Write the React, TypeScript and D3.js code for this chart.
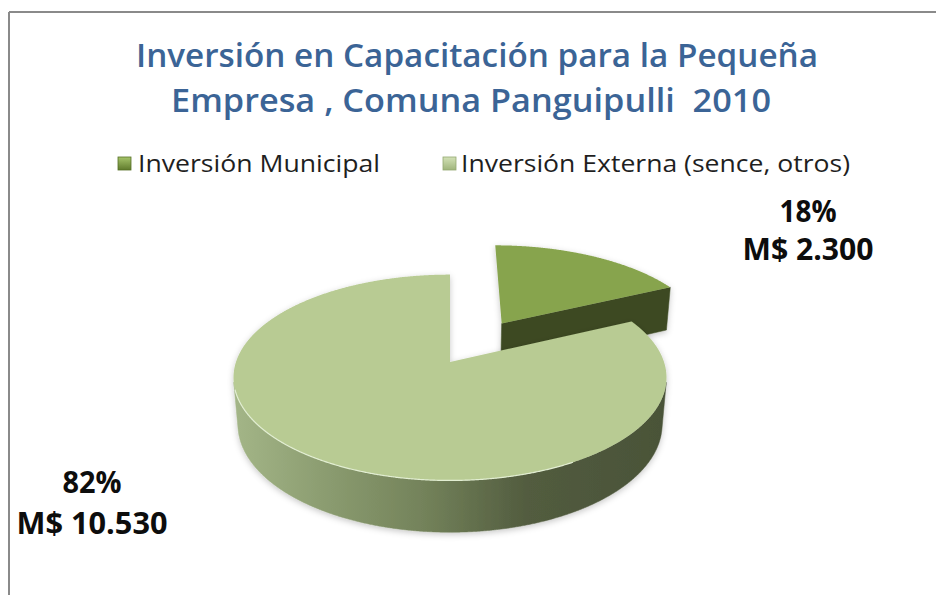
import React from "react";
import * as d3 from "d3";

// ---------- data ----------
const categories = ["Inversión Municipal", "Inversión Externa (sence, otros)"];
const values = [2300, 10530];
const titleLines = [
  "Inversión en Capacitación para la Pequeña",
  "Empresa , Comuna Panguipulli  2010",
];

// ---------- style / layout ----------
const W = 936;
const H = 595;
const explode = [0.48, 0];
const topColors = ["#87a44d", "#b8cb93"];
const faceColors = ["#3d4a22", "#4a5338"];
const legendX = [118, 443];
const legendTextX = [138, 461];
const legendTextW = [242, 389];
const labelPos = [
  { x: 808, y1: 222, y2: 260, w1: 57, w2: 131 },
  { x: 92, y1: 493, y2: 534, w1: 59, w2: 151 },
];

// projection parameters (perspective view of a unit pie)
const CX = 450;
const CY = 362;
const F = 1252;
const DIST = 5.85;
const SIN_T = 0.47;
const COS_T = Math.sqrt(1 - SIN_T * SIN_T);
const DEPTH = 0.251;

function project(X: number, Y: number, Z: number): [number, number] {
  const yc = Y * COS_T + Z * SIN_T;
  const zc = -Y * SIN_T + Z * COS_T + DIST;
  return [CX + (F * X) / zc, CY - (F * yc) / zc];
}

const total = d3.sum(values);
const pctFmt = d3.format(".0%");
const locale = d3.formatLocale({
  decimal: ",",
  thousands: ".",
  grouping: [3],
  currency: ["M$ ", ""],
});
const moneyFmt = locale.format("$,.0f");

const pie = d3
  .pie<number>()
  .sort(null)
  .startAngle(0)
  .endAngle(Math.PI * 2)
  .value((d) => d);
const arcs = pie(values);

const line = d3.line<[number, number]>();

function sliceGeometry(i: number) {
  const a0 = arcs[i].startAngle;
  const a1 = arcs[i].endAngle;
  const mid = (a0 + a1) / 2;
  const ox = explode[i] * Math.sin(mid);
  const oz = explode[i] * Math.cos(mid);
  const rim = (a: number, Y: number) =>
    project(Math.sin(a) + ox, Y, Math.cos(a) + oz);
  const apexTop = project(ox, 0, oz);
  const apexBot = project(ox, -DEPTH, oz);
  const step = Math.PI / 720;
  const n = Math.max(2, Math.ceil((a1 - a0) / step));
  const angles = d3.range(n + 1).map((k) => a0 + ((a1 - a0) * k) / n);

  // top face
  const topPts: [number, number][] = [apexTop, ...angles.map((a) => rim(a, 0))];
  const top = line(topPts) + "Z";

  // outer wall visible segments
  const vis = (a: number) =>
    -1 - ox * Math.sin(a) - Math.cos(a) * (DIST * COS_T + oz) > 0;
  const walls: string[] = [];
  let seg: number[] = [];
  const flush = () => {
    if (seg.length > 1) {
      const pts: [number, number][] = [
        ...seg.map((a) => rim(a, 0)),
        ...seg
          .slice()
          .reverse()
          .map((a) => rim(a, -DEPTH)),
      ];
      walls.push(line(pts) + "Z");
    }
    seg = [];
  };
  angles.forEach((a) => {
    if (vis(a)) seg.push(a);
    else flush();
  });
  flush();

  // cut faces (only clearly front-facing ones)
  const faces: string[] = [];
  const camToApex = [-ox, DIST * SIN_T, -DIST * COS_T - oz];
  const startN = [-Math.cos(a0), 0, Math.sin(a0)];
  const endN = [Math.cos(a1), 0, -Math.sin(a1)];
  const dot = (nv: number[]) =>
    nv[0] * camToApex[0] + nv[1] * camToApex[1] + nv[2] * camToApex[2];
  [
    [a0, startN],
    [a1, endN],
  ].forEach(([a, nv]) => {
    if (dot(nv as number[]) > 0.5) {
      const pts: [number, number][] = [
        apexTop,
        rim(a as number, 0),
        rim(a as number, -DEPTH),
        apexBot,
      ];
      faces.push(line(pts) + "Z");
    }
  });

  // highlight on front rim
  const hl = angles.filter((a) => a > (150 * Math.PI) / 180 && a < (255 * Math.PI) / 180);
  const highlight = hl.length > 1 ? line(hl.map((a) => rim(a, 0))) : null;

  return { top, walls, faces, highlight, depthKey: oz };
}

const slices = arcs
  .map((_, i) => ({ i, g: sliceGeometry(i) }))
  .sort((a, b) => b.g.depthKey - a.g.depthKey);

const leftX = project(-1, 0, 0)[0];
const rightX = project(1, 0, 0)[0];

export default function App() {
  return (
    <div style={{ position: "fixed", left: 0, top: 0, width: W, height: H, background: "#fff" }}>
      <svg width={W} height={H} viewBox={`0 0 ${W} ${H}`}>
        <defs>
          <linearGradient id="wallGrad" gradientUnits="userSpaceOnUse" x1={leftX} x2={rightX} y1={0} y2={0}>
            <stop offset="0" stopColor="#a3b587" />
            <stop offset="0.21" stopColor="#8b9c70" />
            <stop offset="0.44" stopColor="#73825a" />
            <stop offset="0.68" stopColor="#525c3f" />
            <stop offset="1" stopColor="#4a5338" />
          </linearGradient>
          <linearGradient id="lg0" x1="0" x2="0" y1="0" y2="1">
            <stop offset="0" stopColor="#a6c46a" />
            <stop offset="1" stopColor="#5f7a2c" />
          </linearGradient>
          <linearGradient id="lg1" x1="0" x2="0" y1="0" y2="1">
            <stop offset="0" stopColor="#d3e2b7" />
            <stop offset="1" stopColor="#9fb47b" />
          </linearGradient>
          <filter id="shadow" x="-10%" y="-10%" width="120%" height="130%">
            <feDropShadow dx="0" dy="2" stdDeviation="3" floodColor="#000" floodOpacity="0.22" />
          </filter>
        </defs>

        <rect x={0} y={0} width={W} height={H} fill="#fff" />
        {/* chart frame */}
        <line x1={9} y1={12} x2={W} y2={12} stroke="#8a8a8a" strokeWidth={2} />
        <line x1={9} y1={12} x2={9} y2={H} stroke="#8a8a8a" strokeWidth={2} />

        {/* title */}
        {titleLines.map((t, k) => (
          <text
            key={k}
            x={k === 0 ? 477 : 471}
            y={k === 0 ? 67 : 112}
            textAnchor="middle"
            fontFamily="'Open Sans', sans-serif"
            fontWeight={600}
            fontSize={33}
            fill="#3b6496"
            textLength={k === 0 ? 682 : 600}
            lengthAdjust="spacingAndGlyphs"
            style={{ whiteSpace: "pre" }}
          >
            {t}
          </text>
        ))}

        {/* legend */}
        {categories.map((c, i) => (
          <g key={c}>
            <rect
              x={legendX[i]}
              y={157}
              width={13}
              height={13}
              fill={`url(#lg${i})`}
              stroke={i === 0 ? "#556f25" : "#93a871"}
              strokeWidth={0.8}
            />
            <text
              x={legendTextX[i]}
              y={172}
              fontFamily="'Open Sans', sans-serif"
              fontSize={24}
              fill="#1f1f1f"
              textLength={legendTextW[i]}
              lengthAdjust="spacingAndGlyphs"
            >
              {c}
            </text>
          </g>
        ))}

        {/* pie */}
        {slices.map(({ i, g }) => (
          <g key={i} filter="url(#shadow)">
            {g.walls.map((d, k) => (
              <path key={"w" + k} d={d} fill="url(#wallGrad)" stroke="url(#wallGrad)" strokeWidth={0.5} />
            ))}
            {g.faces.map((d, k) => (
              <path key={"f" + k} d={d} fill={faceColors[i]} stroke={faceColors[i]} strokeWidth={0.5} />
            ))}
            <path d={g.top} fill={topColors[i]} />
            {i === 1 && g.highlight && (
              <path d={g.highlight} fill="none" stroke="#e2eed2" strokeWidth={1.2} />
            )}
          </g>
        ))}

        {/* data labels */}
        {arcs.map((a, i) => (
          <g key={"lab" + i} fontFamily="'Open Sans', sans-serif" fontWeight={700} fontSize={30} fill="#0d0d0d">
            <text x={labelPos[i].x} y={labelPos[i].y1} textAnchor="middle" textLength={labelPos[i].w1} lengthAdjust="spacingAndGlyphs">
              {pctFmt(a.value / total)}
            </text>
            <text x={labelPos[i].x} y={labelPos[i].y2} textAnchor="middle" textLength={labelPos[i].w2} lengthAdjust="spacingAndGlyphs">
              {moneyFmt(a.value)}
            </text>
          </g>
        ))}
      </svg>
    </div>
  );
}
